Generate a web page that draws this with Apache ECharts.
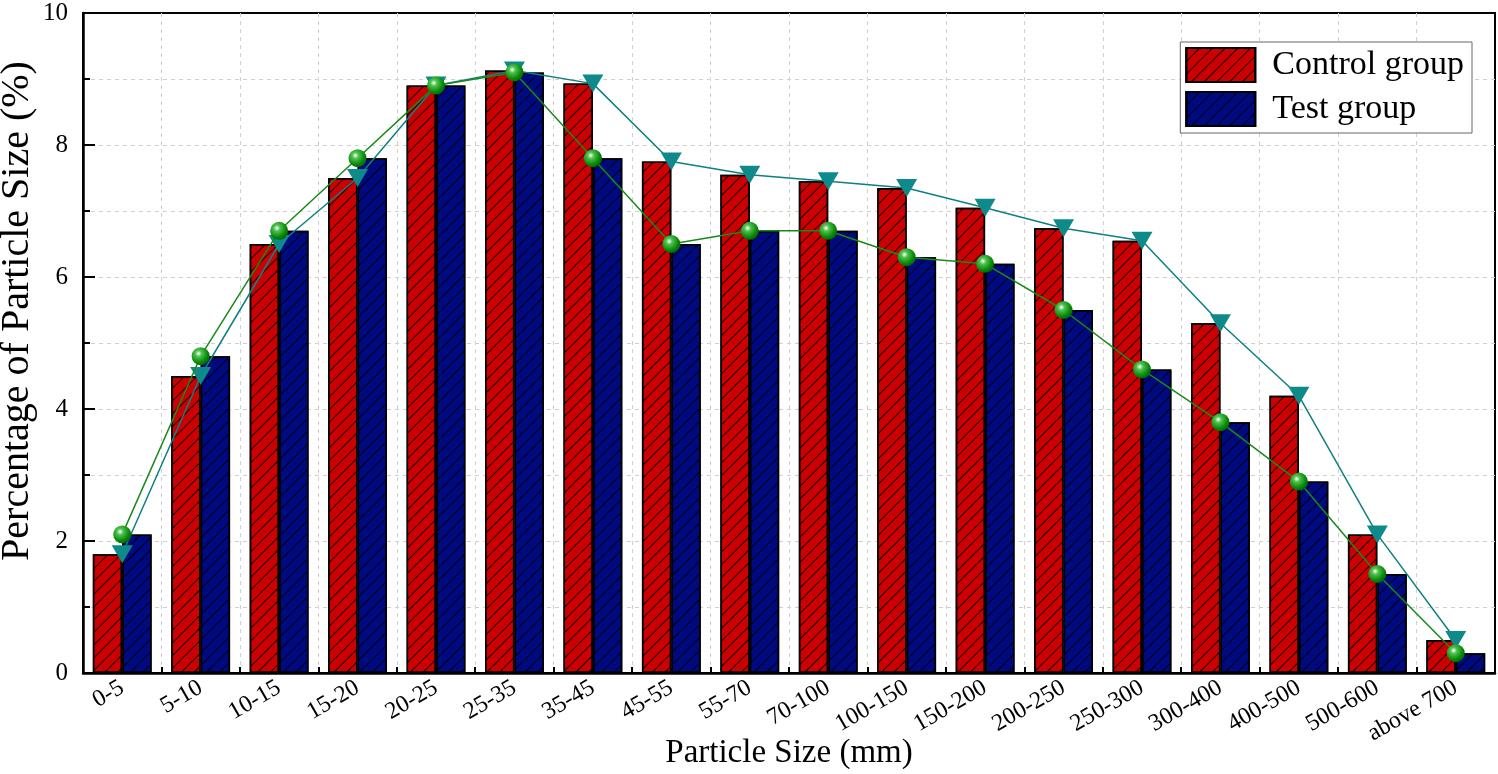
<!DOCTYPE html>
<html>
<head>
<meta charset="utf-8">
<script src="https://cdn.jsdelivr.net/npm/echarts@6/dist/echarts.min.js"></script>
<style>html,body{margin:0;padding:0;background:#fff;}#c{width:1498px;height:774px;}</style>
</head>
<body>
<div id="c"></div>
<script>
var categories = ['0-5','5-10','10-15','15-20','20-25','25-35','35-45','45-55','55-70','70-100','100-150','150-200','200-250','250-300','300-400','400-500','500-600','above 700'];
var controlGroup = [1.8,4.5,6.5,7.5,8.9,9.13,8.93,7.75,7.55,7.45,7.35,7.05,6.74,6.55,5.3,4.2,2.1,0.5];
var testGroup = [2.1,4.8,6.7,7.8,8.9,9.1,7.8,6.5,6.7,6.7,6.3,6.2,5.5,4.6,3.8,2.9,1.5,0.3];
var yTicks = [0,2,4,6,8,10];

var FONT = '"Liberation Serif","Times New Roman",serif';
var chart = echarts.init(document.getElementById('c'));
var hatch = {symbol:'rect', symbolSize:1, dashArrayX:[1,0], dashArrayY:[1,8], rotation:-Math.PI/4, color:'rgba(0,0,0,0.9)'};
var sphere = {type:'radial', x:0.38, y:0.35, r:0.7, colorStops:[{offset:0,color:'#ffffff'},{offset:0.25,color:'#4fc24f'},{offset:0.7,color:'#0a8a0a'},{offset:1,color:'#006400'}]};
var dashed = {color:'#d0d0d0',type:[4,4],width:1};
chart.setOption({
  animation:false,
  backgroundColor:'#fff',
  grid:{left:83,right:3,top:13,bottom:101,containLabel:false,outerBoundsMode:'none',
        show:true,borderColor:'#000',borderWidth:2,backgroundColor:'transparent'},
  legend:{
    data:['Control group','Test group'],
    right:26, top:42,
    orient:'vertical', icon:'rect',
    itemWidth:69, itemHeight:34, itemGap:8,
    padding:[5,8,6,5],
    borderColor:'#666', borderWidth:1,
    backgroundColor:'#fff',
    textStyle:{fontFamily:FONT,fontSize:34,color:'#000',padding:[0,0,0,12]}
  },
  xAxis:{
    type:'category', data:categories, boundaryGap:true,
    name:'Particle Size (mm)', nameLocation:'middle', nameGap:64, nameMoveOverlap:false,
    nameTextStyle:{fontFamily:FONT,fontSize:33,color:'#000'},
    axisLine:{lineStyle:{color:'#000',width:2.5}},
    axisTick:{show:true,inside:true,length:6,lineStyle:{color:'#000',width:2}},
    axisLabel:{rotate:30,fontFamily:FONT,fontSize:24,color:'#000',margin:13,interval:0},
    splitLine:{show:true,showMinLine:false,showMaxLine:false,lineStyle:dashed}
  },
  yAxis:{
    type:'value', min:0, max:10, interval:2,
    name:'Percentage of Particle Size (%)', nameLocation:'middle', nameGap:46, nameMoveOverlap:false,
    nameTextStyle:{fontFamily:FONT,fontSize:40,color:'#000',padding:[0,0,0,64]},
    axisLine:{show:true,lineStyle:{color:'#000',width:2.5}},
    axisTick:{show:true,inside:true,length:12,lineStyle:{color:'#000',width:2}},
    minorTick:{show:true,splitNumber:2,length:7,lineStyle:{color:'#000',width:2}},
    axisLabel:{fontFamily:FONT,fontSize:25,color:'#000',margin:15,
      formatter:function(v){return yTicks.indexOf(v)>=0?String(v):'';}},
    splitLine:{show:true,showMinLine:false,showMaxLine:false,lineStyle:dashed},
    minorSplitLine:{show:true,lineStyle:dashed}
  },
  series:[
    {name:'Control group',type:'bar',data:controlGroup,barGap:'0%',barCategoryGap:'25%',
     itemStyle:{color:'#cc0000',borderColor:'#000',borderWidth:1.5,decal:hatch},z:2},
    {name:'Test group',type:'bar',data:testGroup,
     itemStyle:{color:'#000a80',borderColor:'#000',borderWidth:1.5,decal:hatch},z:2},
    {name:'Control line',type:'line',data:controlGroup,symbol:'triangle',symbolRotate:180,symbolSize:[21,18],
     lineStyle:{color:'#0e8080',width:1.5},itemStyle:{color:'#0e8a8a'},z:5},
    {name:'Test line',type:'line',data:testGroup,symbol:'circle',symbolSize:18,
     lineStyle:{color:'#178a17',width:1.5},itemStyle:{color:sphere},z:6}
  ]
});
</script>
</body>
</html>
